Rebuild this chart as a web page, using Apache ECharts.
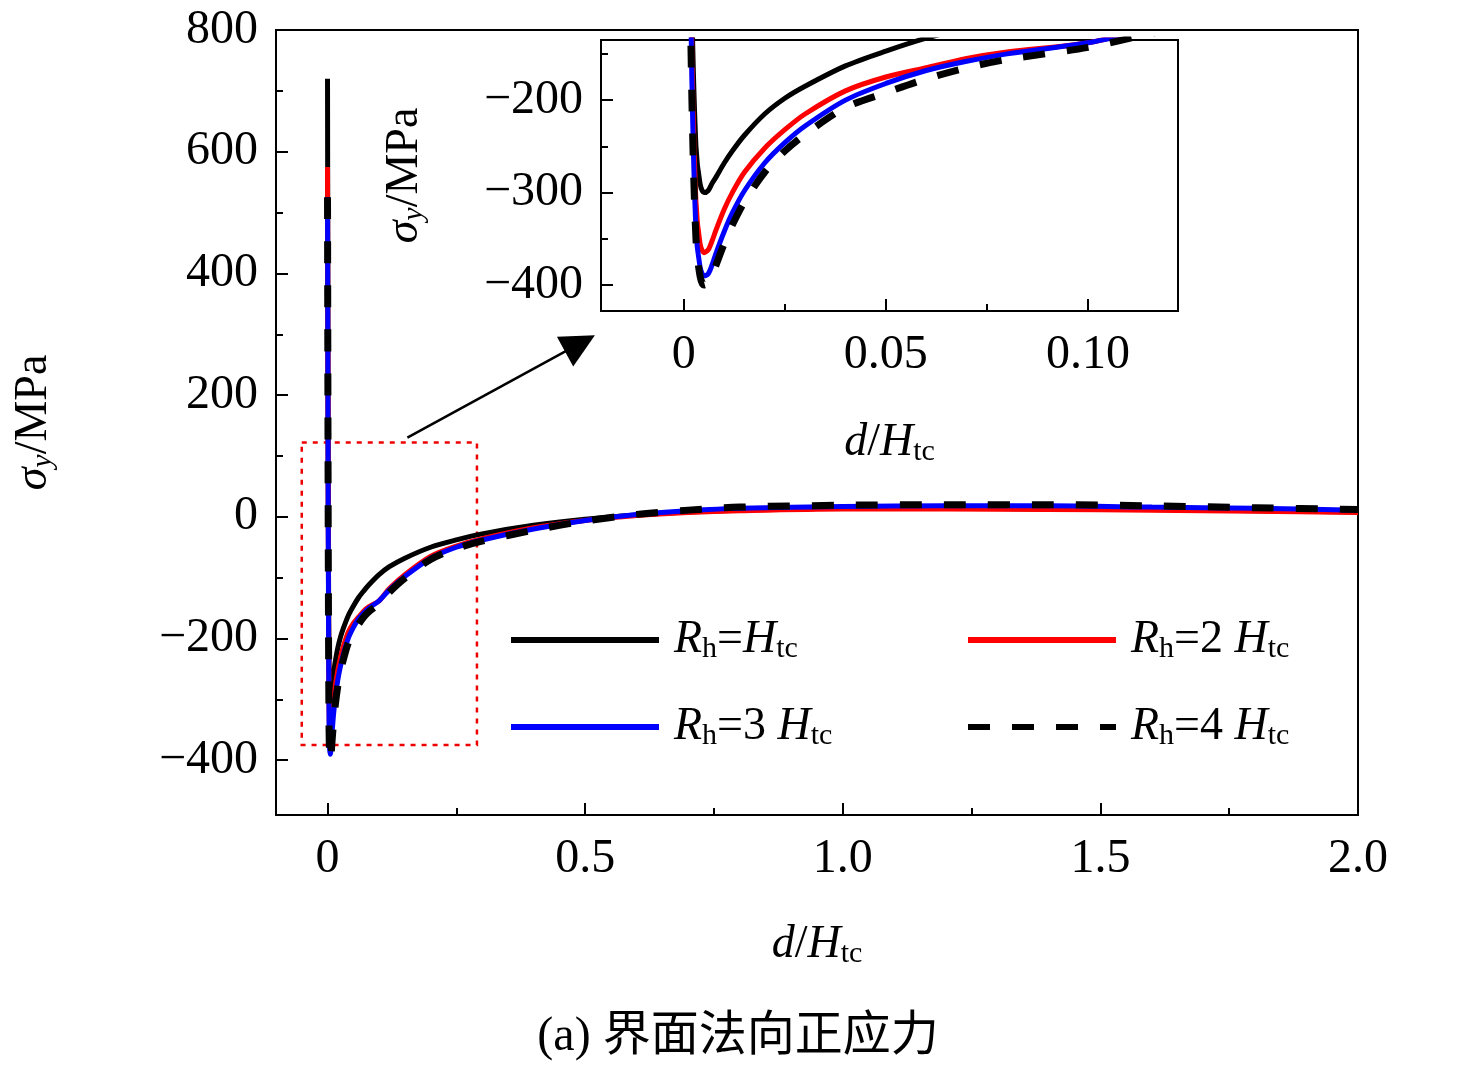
<!DOCTYPE html>
<html><head><meta charset="utf-8">
<script src="https://cdn.jsdelivr.net/npm/echarts@6/dist/echarts.min.js"></script>
<style>html,body{margin:0;padding:0;background:#fff}#c{width:1476px;height:1067px}</style>
</head><body><div id="c"></div>
<script>
const xs=[0,0.001,0.002,0.003,0.004,0.005,0.006,0.007,0.008,0.01,0.012,0.015,0.02,0.025,0.03,0.04,0.05,0.06,0.07,0.08,0.1,0.12,0.15,0.2,0.25,0.3,0.4,0.5,0.6,0.7,0.8,1.0,1.2,1.4,1.6,1.8,2.0];
const sH1=[720,200,-100,-250,-290,-300,-298,-290,-283,-268,-255,-238,-215,-198,-185,-163,-147,-133,-122,-112,-95,-82,-68,-50,-38,-28,-14,-4,3,8,11,14,14,13,12,10,8];
const sH2=[575,150,-150,-310,-355,-365,-362,-352,-340,-318,-300,-278,-252,-232,-215,-190,-175,-165,-155,-148,-138,-118,-95,-65,-48,-36,-18,-6,2,7,10,13,13,12,11,9,7];
const sH3=[525,120,-180,-340,-380,-390,-388,-378,-365,-342,-322,-298,-268,-246,-228,-200,-182,-168,-158,-150,-138,-120,-98,-68,-50,-38,-20,-6,4,10,14,17,18,18,16,14,11];
const sH4=[525,100,-200,-350,-390,-400,-398,-390,-378,-355,-335,-310,-278,-255,-237,-208,-192,-177,-165,-156,-143,-124,-101,-70,-52,-40,-22,-7,4,11,16,19,20,20,18,15,12];
const mainXTicks=[0,0.5,1.0,1.5,2.0], mainXMinor=[0.25,0.75,1.25,1.75];
const mainYTicks=[-400,-200,0,200,400,600,800], mainYMinor=[-300,-100,100,300,500,700];
const insXTicks=[0,0.05,0.1], insXMinor=[0.025,0.075];
const insYTicks=[-400,-300,-200], insYMinor=[-350,-250,-150];
const names=['R1','R2','R3','R4'];
const F='Liberation Serif, Times New Roman, serif';
const rich={g:{width:10},i:{fontFamily:F,fontStyle:'italic',fontSize:46,color:'#000'},n:{fontFamily:F,fontSize:46,color:'#000'},s:{fontFamily:F,fontSize:30,color:'#000',verticalAlign:'bottom',padding:[18,0,0,0]}};
const richY={i:{fontFamily:F,fontStyle:'italic',fontSize:46,color:'#000'},n:{fontFamily:F,fontSize:46,color:'#000'},s:{fontFamily:F,fontStyle:'italic',fontSize:30,color:'#000',verticalAlign:'bottom',padding:[18,0,0,0]}};
const legTxt={R1:'{g|}{i|R}{s|h}{n|=}{i|H}{s|tc}',R2:'{g|}{i|R}{s|h}{n|=2 }{i|H}{s|tc}',R3:'{g|}{i|R}{s|h}{n|=3 }{i|H}{s|tc}',R4:'{g|}{i|R}{s|h}{n|=4 }{i|H}{s|tc}'};
const pairs=a=>xs.map((x,i)=>[x,a[i]]);
const lbl={fontFamily:F,fontSize:48,color:'#000'};
const axLine={show:true,onZero:false,lineStyle:{color:'#000',width:2}};
function xAx(grid,min,max,ticks,fmt,len,show,extra){return Object.assign({type:'value',gridIndex:grid,position:'bottom',min,max,axisLine:axLine,splitLine:{show:false},
 axisTick:{show:true,inside:true,length:len,lineStyle:{width:2,color:'#000'},customValues:ticks},
 axisLabel:{show:show,customValues:ticks,formatter:fmt,margin:20,...lbl}},extra||{});}
function yAx(grid,min,max,ticks,fmt,len,show,extra){return Object.assign({type:'value',gridIndex:grid,position:'left',min,max,axisLine:axLine,splitLine:{show:false},
 axisTick:{show:true,inside:true,length:len,lineStyle:{width:2,color:'#000'},customValues:ticks},
 axisLabel:{show:show,customValues:ticks,formatter:fmt,margin:18,...lbl}},extra||{});}
const fx=v=>v===0?'0':(Math.abs(v)<0.2?v.toFixed(2):v.toFixed(1));
const fy=v=>v<0?'\u2212'+(-v):String(v);
const chart=echarts.init(document.getElementById('c'));
const cols=['#000','#f00','#00f','#000'];
const series=[];
[sH1,sH2,sH3,sH4].forEach((d,k)=>{
 [0,1].forEach(ax=>{
  series.push({name:names[k],type:'line',xAxisIndex:ax,yAxisIndex:ax,data:pairs(d),symbol:'none',showSymbol:false,clip:true,smooth:0.3,z:3+k,
   lineStyle:{color:cols[k],width:k===3?7:5,type:k===3?[22,22]:'solid'},itemStyle:{color:cols[k]}});
 });
});
series[0].markArea={silent:true,itemStyle:{color:'rgba(0,0,0,0)',borderColor:'#e00',borderWidth:2.5,borderType:[5,6]},data:[[{coord:[-0.05,122]},{coord:[0.29,-375]}]]};
series[0].markLine={silent:true,symbol:['none','triangle'],symbolSize:[34,34],label:{show:false},lineStyle:{color:'#000',width:2.5,type:'solid'},data:[[{coord:[0.155,130]},{coord:[0.49,285]}]]};
const legBase={orient:'vertical',top:612,itemWidth:148,itemHeight:8,itemGap:40,formatter:n=>legTxt[n],textStyle:{rich},itemStyle:{opacity:0},lineStyle:{width:6}};
chart.setOption({
 animation:false,
 grid:[{left:276,top:30,width:1082,height:785,show:true,borderColor:'#000',borderWidth:2,backgroundColor:'#fff'},
       {left:601,top:40,width:577,height:271,show:true,borderColor:'#000',borderWidth:2,backgroundColor:'#fff'}],
 xAxis:[xAx(0,-0.1,2.0,mainXTicks,fx,12,true,{name:'{i|d}{n|/}{i|H}{s|tc}',nameLocation:'middle',nameGap:106,nameTextStyle:{rich}}),
        xAx(1,-0.0205,0.1223,insXTicks,fx,12,true,{name:'{i|d}{n|/}{i|H}{s|tc}',nameLocation:'middle',nameGap:108,nameTextStyle:{rich}}),
        xAx(0,-0.1,2.0,mainXMinor,fx,7,false),
        xAx(1,-0.0205,0.1223,insXMinor,fx,7,false)],
 yAxis:[yAx(0,-490,800,mainYTicks,fy,12,true,{name:'{i|σ}{s|y}{n|/MPa}',nameLocation:'middle',nameGap:218,nameRotate:90,nameTextStyle:{rich:richY}}),
        yAx(1,-428,-135,insYTicks,fy,12,true,{name:'{i|σ}{s|y}{n|/MPa}',nameLocation:'middle',nameGap:172,nameRotate:90,nameTextStyle:{rich:richY}}),
        yAx(0,-490,800,mainYMinor,fy,7,false),
        yAx(1,-428,-135,insYMinor,fy,7,false)],
 legend:[Object.assign({data:['R1','R3'],left:503},legBase),Object.assign({data:['R2','R4'],left:960},legBase)],
 title:{text:'(a) 界面法向正应力',left:'center',top:1008,textStyle:{fontFamily:'Liberation Serif, Noto Sans CJK SC',fontSize:48,fontWeight:'normal',color:'#000'}},
 series
});
</script></body></html>
